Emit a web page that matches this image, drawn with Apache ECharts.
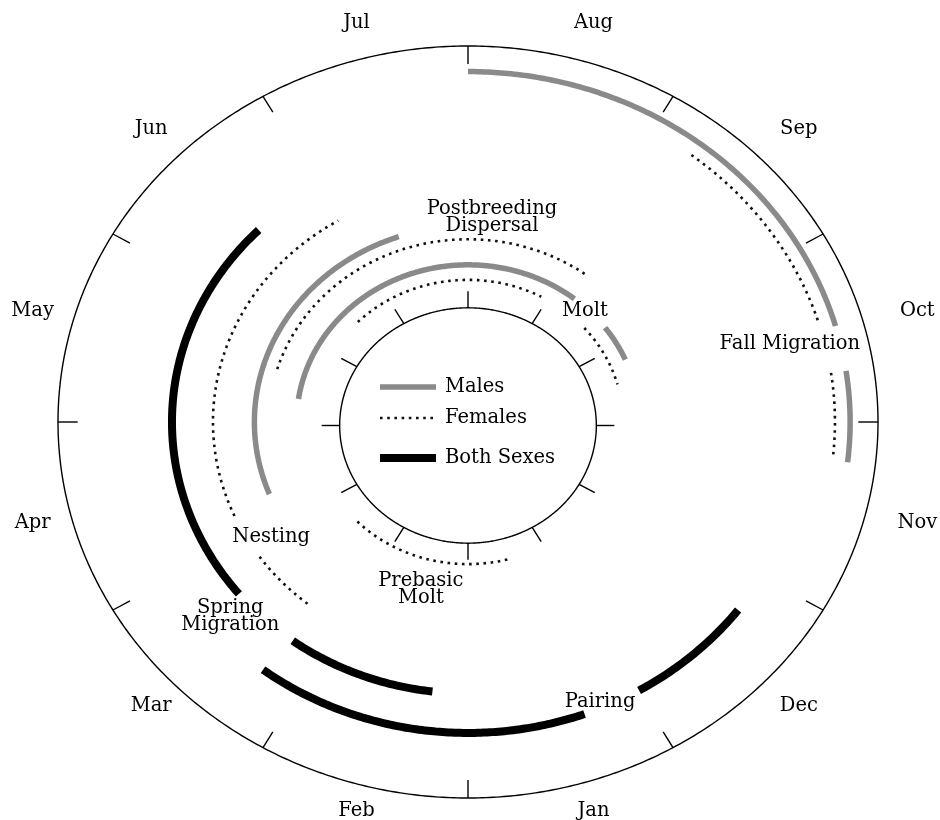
<!DOCTYPE html>
<html>
<head>
<meta charset="utf-8">
<script src="https://cdn.jsdelivr.net/npm/echarts@6/dist/echarts.min.js"></script>
<style>
html,body{margin:0;padding:0;background:#fff;}
#chart{width:940px;height:820px;}
</style>
</head>
<body>
<div id="chart"></div>
<script>
// ---------------- data ----------------
// Month positions: 1 = 1 Jan, 2 = 1 Feb, ... 8 = 1 Aug, 13 = 31 Dec
const months = ['Jan','Feb','Mar','Apr','May','Jun','Jul','Aug','Sep','Oct','Nov','Dec'];
const monthStarts = [1,2,3,4,5,6,7,8,9,10,11,12];

// segments: [start, end, track]
const males = [
  [8.00, 10.47, 'fall'], [10.72, 11.22, 'fall'],
  [4.28, 7.37, 'nest'],
  [5.28, 9.28, 'molt'], [9.77, 10.22, 'molt']
];
const females = [
  [9.25, 10.43, 'fall'], [10.72, 11.21, 'fall'],
  [3.30, 3.86, 'nest'], [4.21, 6.98, 'nest'],
  [5.56, 9.23, 'dispersal'],
  [6.49, 8.94, 'molt'], [9.62, 10.49, 'molt'],
  [1.51, 3.52, 'molt']
];
const bothSexes = [
  [2.23, 3.21, 'spring'], [3.69, 6.50, 'spring'],
  [12.24, 12.99, 'pairing'], [1.33, 3.24, 'pairing']
];
const phaseLabels = ['Fall Migration', 'Postbreeding\nDispersal', 'Molt', 'Nesting', 'Spring\nMigration', 'Prebasic\nMolt', 'Pairing'];
const legendNames = ['Males', 'Females', 'Both Sexes'];

// ---------------- layout / style ----------------
const FONT = '19.5px "DejaVu Serif", "Liberation Serif", serif';
const trackRadius = {
  Males: { fall: 0.932, nest: 0.521, molt: 0.418 },
  Females: { fall: 0.895, nest: 0.622, dispersal: 0.486, molt: 0.378 },
  'Both Sexes': { spring: 0.722, pairing: 0.827 }
};
const seriesStyle = {
  Males: { stroke: '#8a8a8a', lineWidth: 5.5, lineCap: 'butt' },
  Females: { stroke: '#111', lineWidth: 2.6, lineDash: [2.6, 4.6], lineCap: 'butt' },
  'Both Sexes': { stroke: '#000', lineWidth: 8, lineCap: 'butt' }
};
// phase label anchors in normalized frame units (outer ellipse = 1)
const phaseLabelPos = [
  [0.785, 0.210], [0.0585, 0.5465], [0.285, 0.298], [-0.480, -0.303],
  [-0.580, -0.515], [-0.115, -0.443], [0.322, -0.742]
];
const INNER = { r: 0.313, dy: -0.0093 };

function angle(v) { return (v - 8) * Math.PI / 6; }
function ellPoint(api, r, v, dx, dy) {
  const a = angle(v);
  return api.coord([(dx || 0) + r * Math.sin(a), (dy || 0) + r * Math.cos(a)]);
}
function arcPoints(api, r, s, e, dx, dy) {
  if (e < s) e += 12;
  const n = Math.max(8, Math.ceil((e - s) * 60));
  const pts = [];
  for (let k = 0; k <= n; k++) pts.push(ellPoint(api, r, s + (e - s) * k / n, dx, dy));
  return pts;
}

function segmentSeries(name, segs) {
  return {
    type: 'custom',
    name: name,
    coordinateSystem: 'cartesian2d',
    clip: false,
    silent: true,
    data: segs.map((s, i) => [i, 0]),
    renderItem: function (params, api) {
      const seg = segs[params.dataIndex];
      const r = trackRadius[name][seg[2]];
      return {
        type: 'polyline',
        shape: { points: arcPoints(api, r, seg[0], seg[1]) },
        style: Object.assign({ fill: null }, seriesStyle[name])
      };
    }
  };
}

const frameSeries = {
  type: 'custom',
  coordinateSystem: 'cartesian2d',
  clip: false,
  silent: true,
  data: monthStarts.map(m => [m, 0]),
  renderItem: function (params, api) {
    const m = monthStarts[params.dataIndex];
    const children = [];
    const lineStyle = { stroke: '#000', lineWidth: 1.4, fill: null };
    const o1 = ellPoint(api, 1, m), o2 = ellPoint(api, 0.952, m);
    children.push({ type: 'line', shape: { x1: o1[0], y1: o1[1], x2: o2[0], y2: o2[1] }, style: lineStyle });
    const i1 = ellPoint(api, INNER.r, m, 0, INNER.dy), i2 = ellPoint(api, 0.357, m, 0, INNER.dy);
    children.push({ type: 'line', shape: { x1: i1[0], y1: i1[1], x2: i2[0], y2: i2[1] }, style: lineStyle });
    if (params.dataIndex === 0) {
      children.push({ type: 'polygon', shape: { points: arcPoints(api, 1, 0, 12) }, style: { stroke: '#000', lineWidth: 1.4, fill: null } });
      children.push({ type: 'polygon', shape: { points: arcPoints(api, INNER.r, 0, 12, 0, INNER.dy) }, style: { stroke: '#000', lineWidth: 1.4, fill: null } });
    }
    return { type: 'group', children: children };
  }
};

const monthLabelSeries = {
  type: 'custom',
  coordinateSystem: 'cartesian2d',
  clip: false,
  silent: true,
  data: months.map((m, i) => [i, 0]),
  renderItem: function (params, api) {
    const i = params.dataIndex;
    const a = angle(monthStarts[i] + 0.5);
    const p = api.coord([0.017 + 1.117 * Math.sin(a), 0.016 + 1.085 * Math.cos(a)]);
    return {
      type: 'text', x: p[0], y: p[1] + 1,
      style: { text: months[i], font: FONT, fill: '#000', textAlign: 'center', textVerticalAlign: 'middle', align: 'center', verticalAlign: 'middle' }
    };
  }
};

const phaseLabelSeries = {
  type: 'custom',
  coordinateSystem: 'cartesian2d',
  clip: false,
  silent: true,
  z: 5,
  data: phaseLabels.map((t, i) => [i, 0]),
  renderItem: function (params, api) {
    const i = params.dataIndex;
    const p = api.coord(phaseLabelPos[i]);
    return {
      type: 'text', x: p[0], y: p[1] + 1,
      style: { text: phaseLabels[i], font: FONT, fill: '#000', lineHeight: 17.5, textLineHeight: 17.5,
        textAlign: 'center', textVerticalAlign: 'middle', align: 'center', verticalAlign: 'middle' }
    };
  }
};

// legend samples drawn inside the inner ring
const legendY = [387, 418, 458];
const legendGraphics = [];
legendNames.forEach((n, i) => {
  const st = Object.assign({ fill: null }, seriesStyle[n]);
  legendGraphics.push({ type: 'line', shape: { x1: 380, y1: legendY[i], x2: 436, y2: legendY[i] }, style: st, silent: true });
  legendGraphics.push({ type: 'text', x: 445, y: legendY[i],
    style: { text: n, font: FONT, fill: '#000', textAlign: 'left', textVerticalAlign: 'middle', align: 'left', verticalAlign: 'middle' }, silent: true });
});

const chart = echarts.init(document.getElementById('chart'), null, { renderer: 'canvas' });
chart.setOption({
  backgroundColor: '#ffffff',
  animation: false,
  grid: { left: 58, top: 46, width: 820, height: 752, containLabel: false },
  xAxis: { type: 'value', min: -1, max: 1, show: false },
  yAxis: { type: 'value', min: -1, max: 1, show: false },
  tooltip: { show: false },
  series: [
    frameSeries,
    segmentSeries('Both Sexes', bothSexes),
    segmentSeries('Females', females),
    segmentSeries('Males', males),
    monthLabelSeries,
    phaseLabelSeries
  ],
  graphic: legendGraphics
});
</script>
</body>
</html>
